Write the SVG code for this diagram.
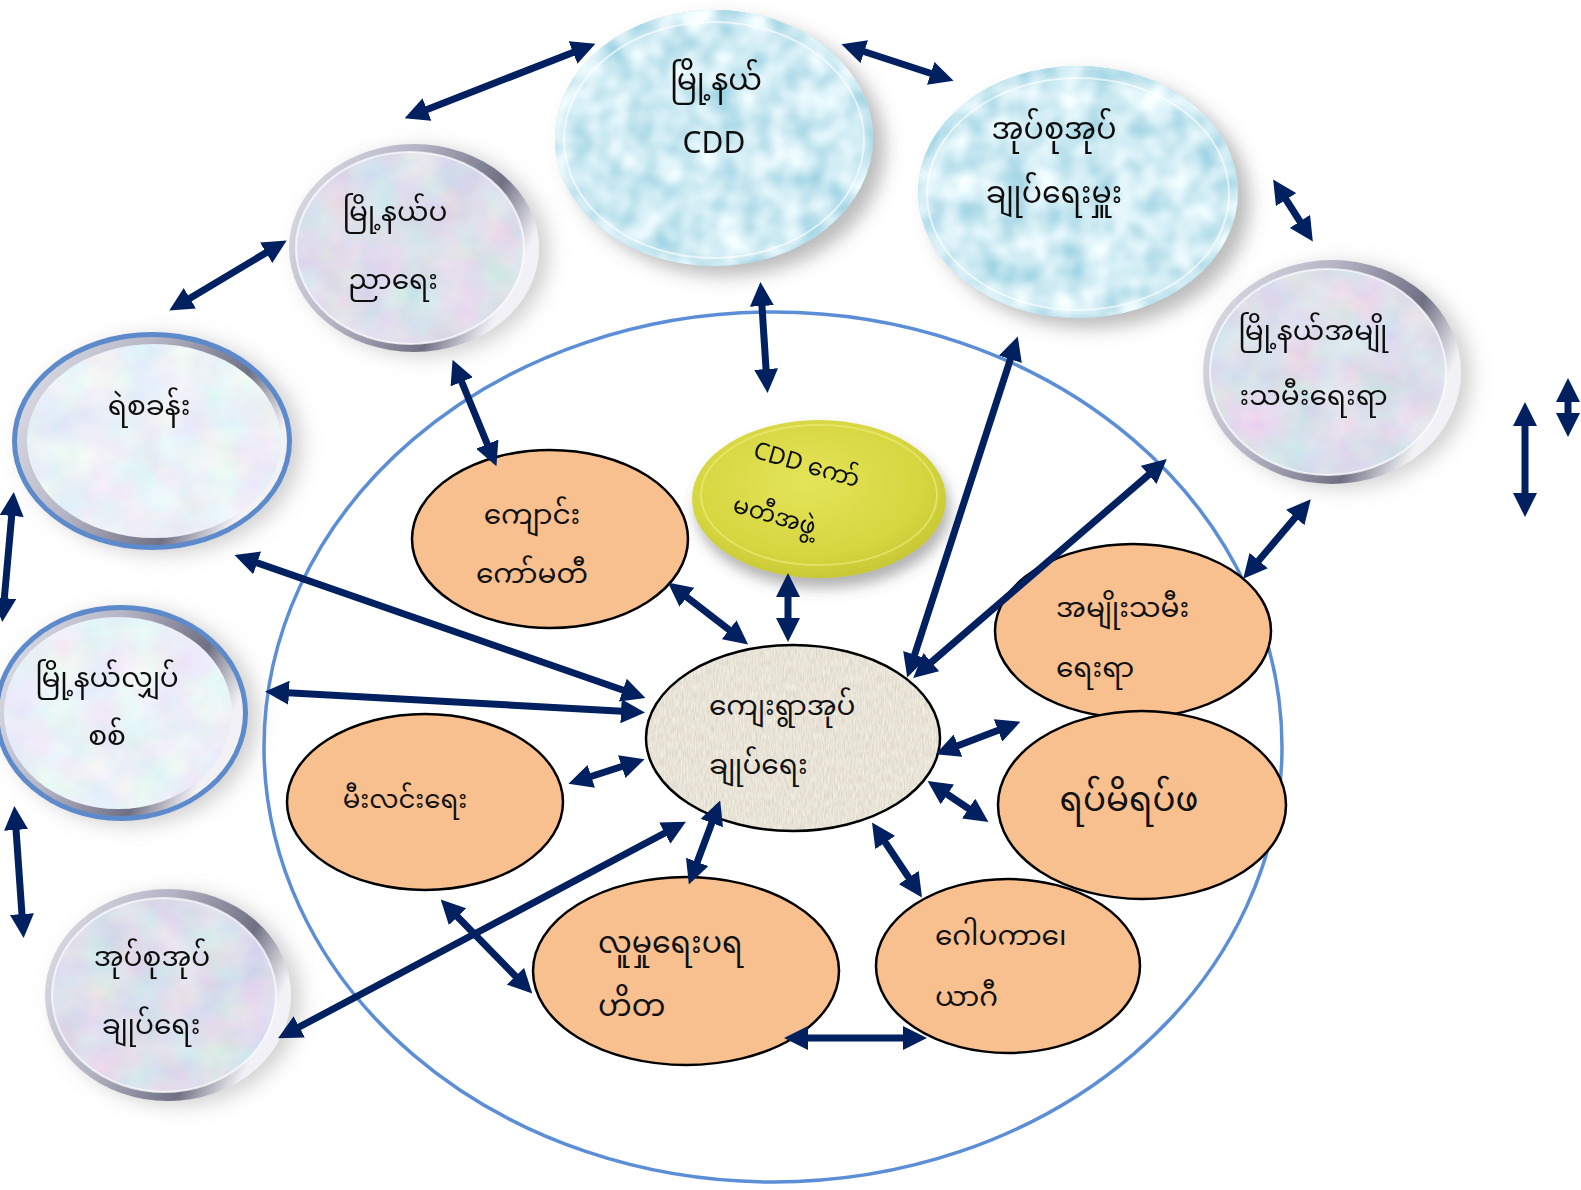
<svg xmlns="http://www.w3.org/2000/svg" width="1581" height="1190" viewBox="0 0 1581 1190">
<defs>
<style>
.t{font-family:'Noto Sans Myanmar','Padauk','Myanmar Text','Noto Sans','DejaVu Sans',sans-serif;fill:#111;text-anchor:middle;dominant-baseline:central;}
.tl{text-anchor:start;}
.f30{font-size:30px}.f28{font-size:28px}.f26{font-size:26px}.f34{font-size:34px}.f24{font-size:24px}
.org{fill:#F8C08F;stroke:#000;stroke-width:2.5}
.ar{fill:none;stroke:#002060;stroke-width:7;marker-start:url(#ah);marker-end:url(#ah)}
</style>
<marker id="ah" viewBox="0 0 24 24" refX="15" refY="12" markerWidth="24" markerHeight="24" markerUnits="userSpaceOnUse" orient="auto-start-reverse">
<path d="M0,0 L24,12 L0,24 z" fill="#002060"/>
</marker>
<filter id="shW" x="-20%" y="-20%" width="150%" height="150%">
<feDropShadow dx="12" dy="10" stdDeviation="9" flood-color="#6a6a6a" flood-opacity="0.45"/>
</filter>
<filter id="shM" x="-20%" y="-20%" width="150%" height="150%">
<feDropShadow dx="10" dy="4" stdDeviation="10" flood-color="#8a8a8a" flood-opacity="0.4"/>
</filter>
<filter id="shY" x="-20%" y="-20%" width="150%" height="160%">
<feDropShadow dx="4" dy="10" stdDeviation="7" flood-color="#555" flood-opacity="0.45"/>
</filter>
<filter id="marble" x="0" y="0" width="1" height="1">
<feTurbulence type="fractalNoise" baseFrequency="0.025" numOctaves="3" seed="4" result="n"/>
<feColorMatrix in="n" type="matrix" values="0.35 0 0 0 0.55  0 0.28 0 0 0.6  0 0 0.18 0 0.74  0 0 0 0 1" result="c"/>
<feComposite in="c" in2="SourceGraphic" operator="in"/>
</filter>
<filter id="marbleL" x="0" y="0" width="1" height="1">
<feTurbulence type="fractalNoise" baseFrequency="0.025" numOctaves="3" seed="9" result="n"/>
<feColorMatrix in="n" type="matrix" values="0.3 0 0 0 0.68  0 0.28 0 0 0.74  0 0 0.14 0 0.86  0 0 0 0 1" result="c"/>
<feComposite in="c" in2="SourceGraphic" operator="in"/>
</filter>
<filter id="water" x="0" y="0" width="1" height="1">
<feTurbulence type="fractalNoise" baseFrequency="0.035" numOctaves="2" seed="2" result="n"/>
<feColorMatrix in="n" type="matrix" values="0.9 0 0 0 0.18  0.55 0 0 0 0.56  0.4 0 0 0 0.7  0 0 0 0 1" result="c"/>
<feComposite in="c" in2="SourceGraphic" operator="in"/>
</filter>
<filter id="linen" x="0" y="0" width="1" height="1">
<feTurbulence type="fractalNoise" baseFrequency="0.9 0.12" numOctaves="2" seed="5" result="n"/>
<feColorMatrix in="n" type="matrix" values="0.3 0 0 0 0.66  0.3 0 0 0 0.62  0.3 0 0 0 0.53  0 0 0 0 1" result="c"/>
<feComposite in="c" in2="SourceGraphic" operator="in"/>
</filter>
<linearGradient id="silver" x1="0" y1="0" x2="1" y2="0.4">
<stop offset="0" stop-color="#e4e4ec"/>
<stop offset="0.45" stop-color="#b4b4c4"/>
<stop offset="0.8" stop-color="#707084"/>
<stop offset="1" stop-color="#f2f2f6"/>
</linearGradient>
<radialGradient id="yel" cx="0.45" cy="0.4" r="0.65">
<stop offset="0" stop-color="#E4E45A"/>
<stop offset="0.7" stop-color="#D6D640"/>
<stop offset="1" stop-color="#C4C432"/>
</radialGradient>
</defs>

<g id="boundary">
<ellipse cx="773" cy="747" rx="509" ry="435" fill="none" stroke="#5B8ED6" stroke-width="3.5"/>
</g>

<g id="n-cdd" filter="url(#shW)">
<ellipse cx="714" cy="138" rx="159" ry="128" fill="#A8DCE8"/>
<ellipse cx="714" cy="138" rx="159" ry="128" filter="url(#water)"/>
<ellipse cx="714" cy="140" rx="150" ry="118" fill="none" stroke="#fff" stroke-width="2" opacity="0.6"/>
<text class="t f30" x="716" y="83">မြို့နယ်</text>
<text class="t f30" x="714" y="146" font-family="'Noto Sans','Liberation Sans',sans-serif">CDD</text>
</g>

<g id="n-supervisors" filter="url(#shW)">
<ellipse cx="1078" cy="192" rx="160" ry="126" fill="#A8DCE8"/>
<ellipse cx="1078" cy="192" rx="160" ry="126" filter="url(#water)"/>
<ellipse cx="1078" cy="194" rx="151" ry="116" fill="none" stroke="#fff" stroke-width="2" opacity="0.6"/>
<text class="t f30" x="1054" y="132">အုပ်စုအုပ်</text>
<text class="t f30" x="1054" y="196">ချုပ်ရေးမှူး</text>
</g>

<g id="n-education" filter="url(#shM)">
<ellipse cx="414" cy="248" rx="125" ry="104" fill="url(#silver)"/>
<ellipse cx="410" cy="248" rx="114" ry="96" filter="url(#marble)"/>
<ellipse cx="410" cy="248" rx="114" ry="96" fill="none" stroke="#fff" stroke-width="2" opacity="0.7"/>
<text class="t f28" x="395" y="214">မြို့နယ်ပ</text>
<text class="t f28" x="393" y="282">ညာရေး</text>
</g>

<g id="n-women-town" filter="url(#shM)">
<ellipse cx="1332" cy="372" rx="129" ry="112" fill="url(#silver)"/>
<ellipse cx="1328" cy="372" rx="118" ry="103" filter="url(#marble)"/>
<ellipse cx="1328" cy="372" rx="118" ry="103" fill="none" stroke="#fff" stroke-width="2" opacity="0.7"/>
<text class="t f28" x="1313" y="333">မြို့နယ်အမျို</text>
<text class="t f28" x="1310" y="398">&#160;းသမီးရေးရာ</text>
</g>

<g id="n-police" filter="url(#shM)">
<ellipse cx="152" cy="441" rx="140" ry="109" fill="#5B8ACB"/>
<ellipse cx="152" cy="441" rx="135" ry="104" fill="url(#silver)"/>
<ellipse cx="154" cy="441" rx="127" ry="97" filter="url(#marbleL)"/>
<text class="t f28" x="149" y="408">ရဲစခန်း</text>
</g>

<g id="n-electric" filter="url(#shM)">
<ellipse cx="121" cy="713" rx="127" ry="108" fill="#5B8ACB"/>
<ellipse cx="121" cy="713" rx="122" ry="103" fill="url(#silver)"/>
<ellipse cx="118" cy="713" rx="114" ry="96" filter="url(#marbleL)"/>
<text class="t f28" x="107" y="680">မြို့နယ်လျှပ်</text>
<text class="t f28" x="107" y="738">စစ်</text>
</g>

<g id="n-group-admin" filter="url(#shM)">
<ellipse cx="168" cy="995" rx="123" ry="106" fill="url(#silver)"/>
<ellipse cx="164" cy="995" rx="112" ry="97" filter="url(#marble)"/>
<ellipse cx="164" cy="995" rx="112" ry="97" fill="none" stroke="#fff" stroke-width="2" opacity="0.7"/>
<text class="t f28" x="152" y="959">အုပ်စုအုပ်</text>
<text class="t f28" x="151" y="1027">ချုပ်ရေး</text>
</g>

<g id="n-school">
<ellipse class="org" cx="550" cy="539" rx="138" ry="89"/>
<text class="t f28" x="532" y="517">ကျောင်း</text>
<text class="t f28" x="532" y="576">ကော်မတီ</text>
</g>

<g id="n-cdd-committee" filter="url(#shY)">
<ellipse cx="819" cy="499" rx="127" ry="79" fill="url(#yel)"/>
<ellipse cx="819" cy="495" rx="118" ry="70" fill="none" stroke="#EEEE80" stroke-width="2" opacity="0.6"/>
<text class="t f24" x="806" y="467" transform="rotate(16 806 467)">CDD ကော်</text>
<text class="t f24" x="774" y="518" transform="rotate(16 774 518)">မတီအဖွဲ့</text>
</g>

<g id="n-village">
<ellipse cx="793" cy="738" rx="147" ry="93" fill="#D9D0BE"/>
<ellipse cx="793" cy="738" rx="147" ry="93" filter="url(#linen)"/>
<ellipse cx="793" cy="738" rx="147" ry="93" fill="none" stroke="#000" stroke-width="2.5"/>
<text class="t tl f28" x="709" y="708">ကျေးရွာအုပ်</text>
<text class="t tl f28" x="709" y="767">ချုပ်ရေး</text>
</g>

<g id="n-women">
<ellipse class="org" cx="1133" cy="631" rx="138" ry="87"/>
<text class="t tl f28" x="1056" y="610">အမျိုးသမီး</text>
<text class="t tl f28" x="1056" y="670">ရေးရာ</text>
</g>

<g id="n-elders">
<ellipse class="org" cx="1142" cy="805" rx="144" ry="94"/>
<text class="t f34" x="1129" y="803">ရပ်မိရပ်ဖ</text>
</g>

<g id="n-lighting">
<ellipse class="org" cx="425" cy="802" rx="138" ry="88"/>
<text class="t f26" x="405" y="802">မီးလင်းရေး</text>
</g>

<g id="n-social">
<ellipse class="org" cx="686" cy="971" rx="153" ry="94"/>
<text class="t tl f30" x="598" y="946">လူမှုရေးပရ</text>
<text class="t tl f30" x="598" y="1009">ဟိတ</text>
</g>

<g id="n-gopaka">
<ellipse class="org" cx="1008" cy="966" rx="132" ry="87"/>
<text class="t tl f28" x="935" y="938">ဂေါပကာ၊ေ</text>
<text class="t tl f28" x="935" y="999">ယာဂီ</text>
</g>

<g id="connectors">
<line class="ar" x1="413" y1="115" x2="587" y2="47"/>
<line class="ar" x1="850" y1="47" x2="945" y2="78"/>
<line class="ar" x1="1278" y1="187" x2="1308" y2="234"/>
<line class="ar" x1="279" y1="245" x2="177" y2="306"/>
<line class="ar" x1="13" y1="501" x2="3" y2="613"/>
<line class="ar" x1="15" y1="815" x2="23" y2="929"/>
<line class="ar" x1="761" y1="291" x2="767" y2="384"/>
<line class="ar" x1="456" y1="368" x2="493" y2="458"/>
<line class="ar" x1="1015" y1="345" x2="910" y2="669"/>
<line class="ar" x1="1160" y1="465" x2="920" y2="672"/>
<line class="ar" x1="1305" y1="506" x2="1249" y2="572"/>
<line class="ar" x1="243" y1="558" x2="637" y2="695"/>
<line class="ar" x1="274" y1="692" x2="636" y2="712"/>
<line class="ar" x1="675" y1="588" x2="741" y2="639"/>
<line class="ar" x1="788" y1="582" x2="788" y2="633"/>
<line class="ar" x1="636" y1="762" x2="577" y2="781"/>
<line class="ar" x1="944" y1="751" x2="1012" y2="725"/>
<line class="ar" x1="935" y1="786" x2="981" y2="817"/>
<line class="ar" x1="877" y1="830" x2="917" y2="890"/>
<line class="ar" x1="717" y1="809" x2="692" y2="876"/>
<line class="ar" x1="286" y1="1034" x2="678" y2="826"/>
<line class="ar" x1="447" y1="906" x2="526" y2="987"/>
<line class="ar" x1="793" y1="1038" x2="918" y2="1038"/>
<line class="ar" x1="1525" y1="411" x2="1525" y2="508"/>
<line class="ar" x1="1568" y1="387" x2="1568" y2="428"/>
</g>
</svg>
